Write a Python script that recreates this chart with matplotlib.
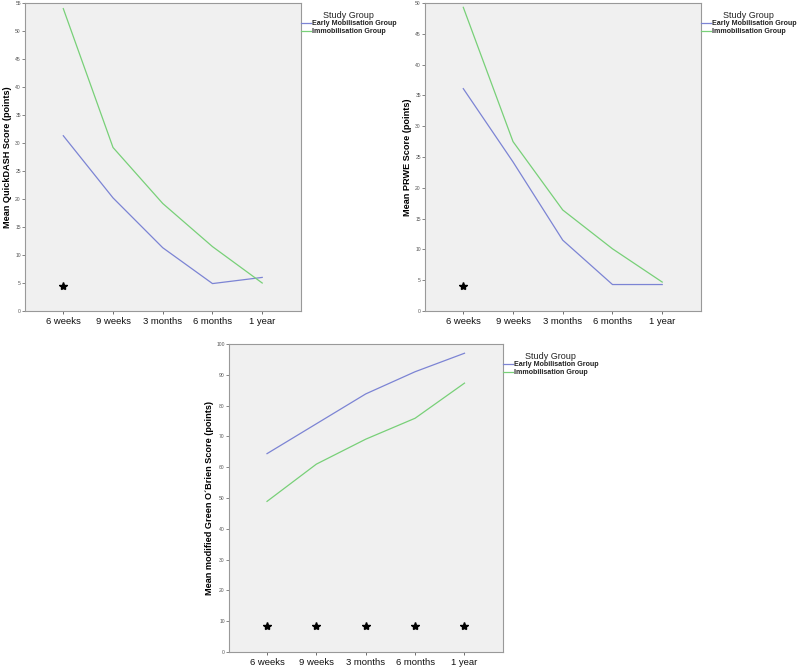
import numpy as np
import matplotlib
matplotlib.use("Agg")
import matplotlib.pyplot as plt

plt.rcParams['font.family'] = ['Liberation Sans', 'DejaVu Sans']

timepoints = ["6 weeks", "9 weeks", "3 months", "6 months", "1 year"]
groups = ["Early Mobilisation Group", "Immobilisation Group"]

quickdash_early = [31.3, 20.2, 11.3, 4.9, 6.0]
quickdash_immob = [54.0, 29.2, 19.2, 11.5, 5.0]
quickdash_star_x = [0]
quickdash_star_y = [4.4]

prwe_early = [36.1, 24.2, 11.5, 4.3, 4.3]
prwe_immob = [49.3, 27.5, 16.4, 10.1, 4.7]
prwe_star_x = [0]
prwe_star_y = [4.0]

green_early = [64.4, 74.1, 83.8, 91.0, 97.0]
green_immob = [48.9, 61.0, 69.1, 75.9, 87.3]
green_star_x = [0, 1, 2, 3, 4]
green_star_y = [8.4, 8.4, 8.4, 8.4, 8.4]

blue = "#7c84d4"
green = "#78d078"

fig = plt.figure(figsize=(8, 6.69), dpi=100)


def drawPanel(rect, early, immob, starX, starY, ylabel, ymax, ystep):
  ax = fig.add_axes(rect)
  ax.set_facecolor("#f0f0f0")
  x = np.arange(len(timepoints))
  ax.plot(x, early, color=blue, lw=0.9, label=groups[0])
  ax.plot(x, immob, color=green, lw=0.9, label=groups[1])
  ax.plot(starX, starY, ls="none", marker="*", color="black", markersize=6)
  ax.set_xlim(-0.77, 4.78)
  ax.set_ylim(0, ymax)
  ax.set_xticks(x)
  ax.set_xticklabels(timepoints, fontsize=6.8)
  ax.set_yticks(np.arange(0, ymax + 1, ystep))
  ax.tick_params(axis="y", labelsize=3.6, length=2, width=0.5, pad=1, colors="#555555")
  ax.tick_params(axis="x", length=2.5, width=0.6, pad=2, colors="#555555")
  for lab in ax.get_xticklabels():
    lab.set_color("#111111")
  ax.set_ylabel(ylabel, fontsize=6.6, fontweight="bold", labelpad=2)
  for s in ax.spines.values():
    s.set_color("#999999")
    s.set_linewidth(0.8)
  leg = ax.legend(loc="upper left", bbox_to_anchor=(1.0, 0.975), frameon=False,
                  fontsize=5.1, title="Study Group", title_fontsize=6.5,
                  handlelength=1.4, handletextpad=0.1, borderpad=0,
                  borderaxespad=0, labelspacing=0.1)
  for t in leg.get_texts():
    t.set_fontweight("bold")
    t.set_color("#222222")
  leg.get_title().set_color("#222222")
  return ax


drawPanel([0.03125, 0.5351, 0.345, 0.4604], quickdash_early, quickdash_immob,
          quickdash_star_x, quickdash_star_y, "Mean QuickDASH Score (points)", 55, 5)
drawPanel([0.53125, 0.5351, 0.345, 0.4604], prwe_early, prwe_immob,
          prwe_star_x, prwe_star_y, "Mean PRWE Score (points)", 50, 5)
drawPanel([0.28625, 0.0254, 0.3425, 0.4604], green_early, green_immob,
          green_star_x, green_star_y, "Mean modified Green O\u00b4Brien Score (points)", 100, 10)

fig.savefig("out.png", dpi=100)
